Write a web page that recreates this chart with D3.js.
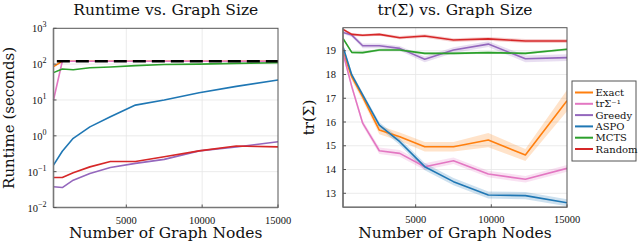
<!DOCTYPE html>
<html>
<head>
<meta charset="utf-8">
<script src="https://cdn.jsdelivr.net/npm/d3@7"></script>
<style>
  html, body { margin: 0; padding: 0; background: #fff; }
  svg { display: block; }
  text { font-family: "DejaVu Serif", "Liberation Serif", serif; fill: #111; }
  text.tick { font-family: "Liberation Serif", "DejaVu Serif", serif; }
</style>
</head>
<body>
<div id="chart"></div>
<script>
// graph sizes (number of nodes)
const nodes = [200, 780, 1500, 2600, 3950, 5600, 7500, 9800, 12250, 15000];

// runtime in seconds (log scale)
const runExact   = [85, 120, 120, 120, 120, 120, 120, 120, 120, 120];
const runTrInv   = [10, 120, 120, 120, 120, 120, 120, 120, 120, 120];
const runGreedy  = [0.038, 0.036, 0.058, 0.089, 0.131, 0.17, 0.22, 0.38, 0.49, 0.68];
const runASPO    = [0.152, 0.37, 0.85, 1.78, 3.4, 7.2, 10, 16, 24, 36];
const runMCTS    = [58, 73, 70, 79, 83, 91, 98, 100, 105, 109];
const runRandom  = [0.069, 0.069, 0.093, 0.136, 0.193, 0.193, 0.26, 0.38, 0.52, 0.49];
const timeLimit = 120;
const timeLimitFrom = 420;

// tr(Sigma) means and half band widths
const trExact   = [18.95, 17.9, 17.06, 15.66, 15.38, 14.96, 14.96, 15.24, 14.61, 16.9];
const trTrInv   = [18.9, 17.49, 15.95, 14.79, 14.68, 14.12, 14.37, 13.81, 13.59, 14.05];
const trGreedy  = [19.77, 19.66, 19.21, 19.21, 19.1, 18.64, 19.03, 19.28, 18.66, 18.71];
const trASPO    = [19.17, 17.98, 17.14, 15.87, 15.17, 14.12, 13.49, 12.93, 12.9, 12.6];
const trMCTS    = [19.52, 18.93, 18.92, 19.03, 19.03, 18.89, 18.89, 18.92, 18.89, 19.06];
const trRandom  = [19.9, 19.69, 19.65, 19.69, 19.55, 19.62, 19.45, 19.5, 19.41, 19.41];

const bandExact  = [0.1, 0.15, 0.15, 0.18, 0.18, 0.2, 0.2, 0.3, 0.25, 0.45];
const bandTrInv  = [0.1, 0.12, 0.12, 0.14, 0.14, 0.14, 0.14, 0.14, 0.14, 0.14];
const bandGreedy = [0.06, 0.08, 0.1, 0.1, 0.1, 0.12, 0.12, 0.12, 0.14, 0.14];
const bandASPO   = [0.06, 0.1, 0.1, 0.12, 0.14, 0.15, 0.15, 0.15, 0.15, 0.15];
const bandMCTS   = [0.04, 0.05, 0.05, 0.05, 0.05, 0.05, 0.05, 0.05, 0.05, 0.05];
const bandRandom = [0.05, 0.06, 0.06, 0.06, 0.07, 0.07, 0.08, 0.08, 0.08, 0.08];

const labels = ["Exact", "trΣ⁻¹", "Greedy", "ASPO", "MCTS", "Random"];
const colors = ["#ff7f0e", "#e377c2", "#9467bd", "#1f77b4", "#2ca02c", "#d62728"];

const xTicks = [5000, 10000, 15000];
const logTicks = [-2, -1, 0, 1, 2, 3];
const trTicks = [13, 14, 15, 16, 17, 18, 19];

const W = 640, H = 245;
const svg = d3.select("#chart").append("svg")
  .attr("width", W).attr("height", H);

const frameColor = "#555";
const gridColor = "#e6e6e6";

function xScale(left, right) {
  return d3.scaleLinear().domain([200, 15000]).range([left, right]);
}

// ---------- left: runtime ----------
const L = { left: 53.5, right: 278, top: 28.3, bottom: 207.5 };
const x1 = xScale(L.left, L.right);
const y1 = d3.scaleLog().domain([0.01, 1000]).range([L.bottom, L.top]);

const g1 = svg.append("g");

g1.append("g").selectAll("line").data(xTicks.slice(0, 2)).join("line")
  .attr("x1", d => x1(d)).attr("x2", d => x1(d))
  .attr("y1", L.top).attr("y2", L.bottom)
  .attr("stroke", gridColor).attr("stroke-width", 0.8);
g1.append("g").selectAll("line").data(logTicks.slice(1, 5)).join("line")
  .attr("x1", L.left).attr("x2", L.right)
  .attr("y1", d => y1(Math.pow(10, d))).attr("y2", d => y1(Math.pow(10, d)))
  .attr("stroke", gridColor).attr("stroke-width", 0.8);

const runSeries = [runExact, runTrInv, runGreedy, runASPO, runMCTS, runRandom];
const line1 = d3.line().x((d, i) => x1(nodes[i])).y(d => y1(d));
runSeries.forEach((s, i) => {
  g1.append("path")
    .attr("fill", "none")
    .attr("stroke", colors[i])
    .attr("stroke-width", 1.6)
    .attr("stroke-linejoin", "round")
    .attr("d", line1(s));
});

g1.append("line")
  .attr("x1", x1(timeLimitFrom)).attr("x2", x1(15000))
  .attr("y1", y1(timeLimit)).attr("y2", y1(timeLimit))
  .attr("stroke", "#000").attr("stroke-width", 2.6)
  .attr("stroke-dasharray", "13,6");

// ---------- right: trace ----------
const R = { left: 343, right: 567, top: 27.7, bottom: 207.3 };
const x2 = xScale(R.left, R.right);
const y2 = d3.scaleLinear().domain([12.41, 19.97]).range([R.bottom, R.top]);

const g2 = svg.append("g");
svg.append("clipPath").attr("id", "clipR")
  .append("rect").attr("x", R.left).attr("y", R.top)
  .attr("width", R.right - R.left).attr("height", R.bottom - R.top);

g2.append("g").selectAll("line").data(xTicks.slice(0, 2)).join("line")
  .attr("x1", d => x2(d)).attr("x2", d => x2(d))
  .attr("y1", R.top).attr("y2", R.bottom)
  .attr("stroke", gridColor).attr("stroke-width", 0.8);
g2.append("g").selectAll("line").data(trTicks).join("line")
  .attr("x1", R.left).attr("x2", R.right)
  .attr("y1", d => y2(d)).attr("y2", d => y2(d))
  .attr("stroke", gridColor).attr("stroke-width", 0.8);

const trSeries = [trExact, trTrInv, trGreedy, trASPO, trMCTS, trRandom];
const trBands = [bandExact, bandTrInv, bandGreedy, bandASPO, bandMCTS, bandRandom];
const area2 = d3.area()
  .x((d, i) => x2(nodes[i]))
  .y0(d => y2(d[0] - d[1]))
  .y1(d => y2(d[0] + d[1]));
const line2 = d3.line().x((d, i) => x2(nodes[i])).y(d => y2(d));

const plot2 = g2.append("g").attr("clip-path", "url(#clipR)");
trSeries.forEach((s, i) => {
  plot2.append("path")
    .attr("fill", colors[i]).attr("fill-opacity", 0.22)
    .attr("d", area2(s.map((v, j) => [v, trBands[i][j]])));
});
trSeries.forEach((s, i) => {
  plot2.append("path")
    .attr("fill", "none")
    .attr("stroke", colors[i])
    .attr("stroke-width", 1.6)
    .attr("stroke-linejoin", "round")
    .attr("d", line2(s));
});

// ---------- frames, ticks, labels ----------
function frame(g, B) {
  g.append("rect")
    .attr("x", B.left).attr("y", B.top)
    .attr("width", B.right - B.left).attr("height", B.bottom - B.top)
    .attr("fill", "none").attr("stroke", frameColor).attr("stroke-width", 1);
  g.append("line").attr("x1", B.left).attr("x2", B.left)
    .attr("y1", B.top).attr("y2", B.bottom)
    .attr("stroke", "#777").attr("stroke-width", 1.6);
  g.append("line").attr("x1", B.left).attr("x2", B.right)
    .attr("y1", B.bottom).attr("y2", B.bottom)
    .attr("stroke", "#777").attr("stroke-width", 1.6);
}
frame(g1, L);
frame(g2, R);

function xTickMarks(g, x, B) {
  g.append("g").selectAll("line").data(xTicks).join("line")
    .attr("x1", d => x(d)).attr("x2", d => x(d))
    .attr("y1", B.bottom).attr("y2", B.bottom - 3)
    .attr("stroke", frameColor).attr("stroke-width", 1);
  g.append("g").selectAll("text").data(xTicks).join("text")
    .attr("class", "tick")
    .attr("x", d => x(d)).attr("y", B.bottom + 16)
    .attr("text-anchor", "middle")
    .style("font-size", "10.5px")
    .text(d => d);
}
xTickMarks(g1, x1, L);
xTickMarks(g2, x2, R);

g1.append("g").selectAll("line").data(logTicks).join("line")
  .attr("x1", L.left).attr("x2", L.left + 3)
  .attr("y1", d => y1(Math.pow(10, d))).attr("y2", d => y1(Math.pow(10, d)))
  .attr("stroke", frameColor);
const lt = g1.append("g").selectAll("text").data(logTicks).join("text")
  .attr("class", "tick")
  .attr("x", L.left - 7).attr("y", d => y1(Math.pow(10, d)) + 4)
  .attr("text-anchor", "end")
  .style("font-size", "10.5px");
lt.append("tspan").text("10");
lt.append("tspan").attr("dy", -5).style("font-size", "8px")
  .text(d => String(d).replace("-", "−"));

g2.append("g").selectAll("line").data(trTicks).join("line")
  .attr("x1", R.left).attr("x2", R.left + 3)
  .attr("y1", d => y2(d)).attr("y2", d => y2(d))
  .attr("stroke", frameColor);
g2.append("g").selectAll("text").data(trTicks).join("text")
  .attr("class", "tick")
  .attr("x", R.left - 7).attr("y", d => y2(d) + 3.5)
  .attr("text-anchor", "end")
  .style("font-size", "10.5px")
  .text(d => d);

// titles
svg.append("text").attr("x", (L.left + L.right) / 2).attr("y", 14.5)
  .attr("text-anchor", "middle").style("font-size", "15.5px")
  .text("Runtime vs. Graph Size");
svg.append("text").attr("x", (R.left + R.right) / 2).attr("y", 14.5)
  .attr("text-anchor", "middle").style("font-size", "15.5px")
  .text("tr(Σ) vs. Graph Size");

// axis labels
svg.append("text").attr("x", (L.left + L.right) / 2).attr("y", 238)
  .attr("text-anchor", "middle").style("font-size", "15.5px")
  .text("Number of Graph Nodes");
svg.append("text").attr("x", (R.left + R.right) / 2).attr("y", 238)
  .attr("text-anchor", "middle").style("font-size", "15.5px")
  .text("Number of Graph Nodes");
svg.append("text")
  .attr("transform", `translate(14,${(L.top + L.bottom) / 2}) rotate(-90)`)
  .attr("text-anchor", "middle").style("font-size", "15px")
  .text("Runtime (seconds)");
svg.append("text")
  .attr("transform", `translate(314,${(R.top + R.bottom) / 2}) rotate(-90)`)
  .attr("text-anchor", "middle").style("font-size", "15px")
  .text("tr(Σ)");

// legend
const lg = svg.append("g").attr("transform", "translate(572,81)");
lg.append("rect").attr("width", 64).attr("height", 80)
  .attr("fill", "#fff").attr("stroke", frameColor).attr("stroke-width", 1);
labels.forEach((t, i) => {
  const yy = 11.5 + i * 11.3;
  lg.append("line").attr("x1", 3).attr("x2", 21)
    .attr("y1", yy).attr("y2", yy)
    .attr("stroke", colors[i]).attr("stroke-width", 2);
  lg.append("text").attr("x", 23.5).attr("y", yy + 3.5)
    .style("font-size", "10px").text(t);
});
</script>
</body>
</html>
